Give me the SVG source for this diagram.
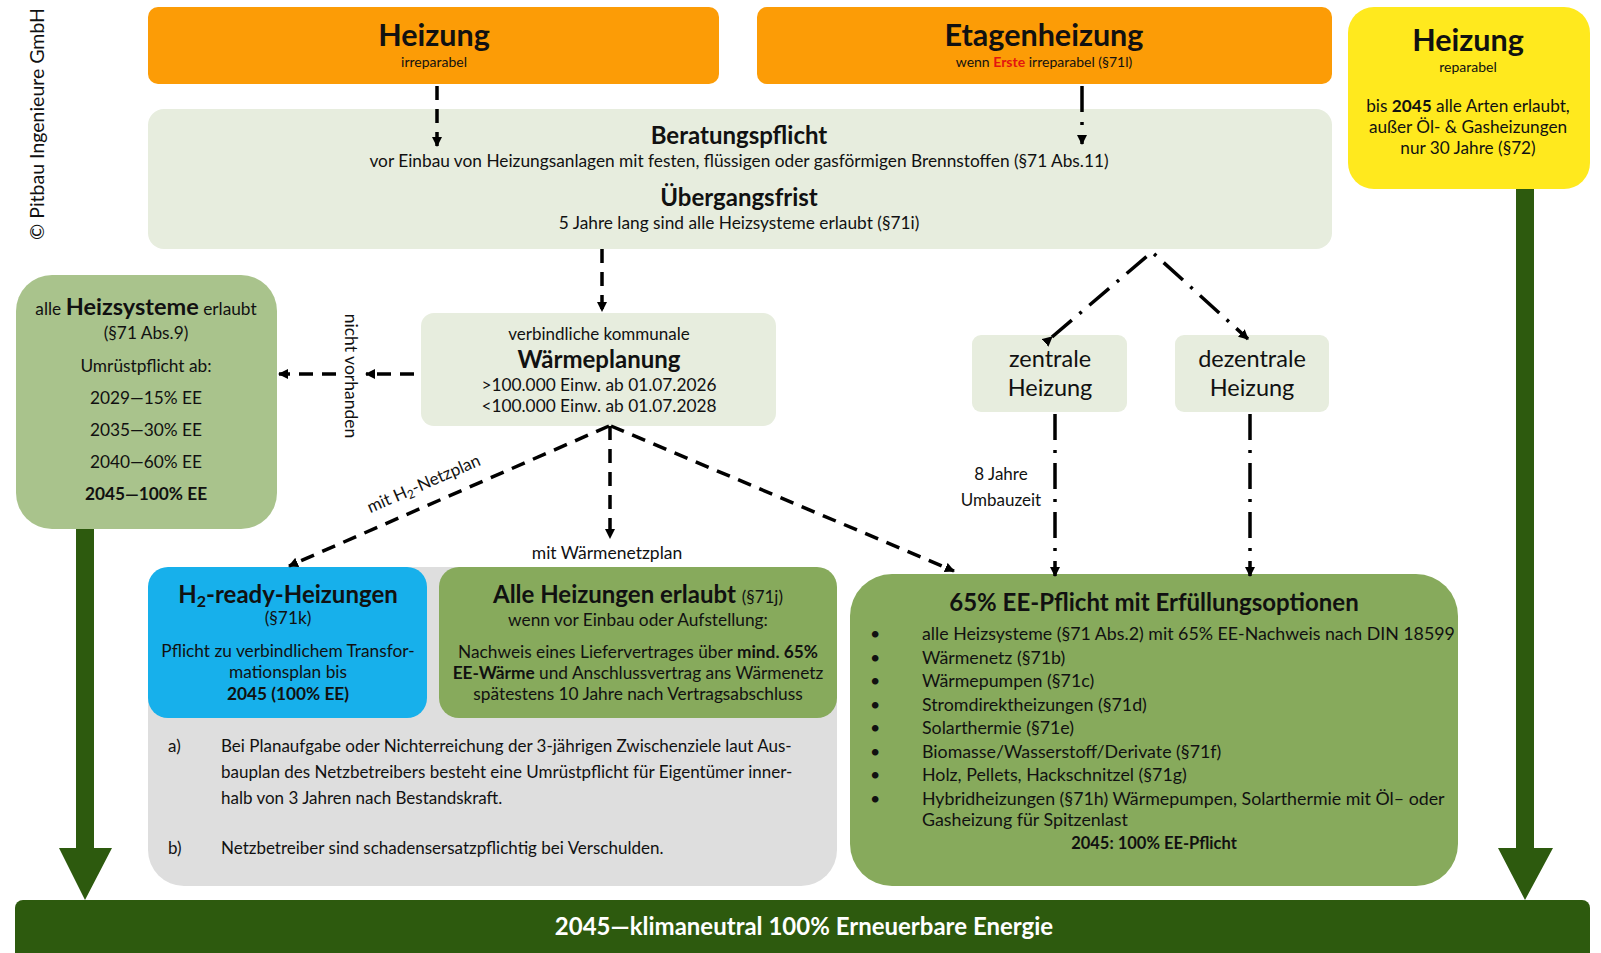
<svg xmlns="http://www.w3.org/2000/svg" width="1601" height="953" viewBox="0 0 1601 953">
<defs>
<marker id="ah" viewBox="0 0 10 10" refX="9" refY="5" markerWidth="10" markerHeight="10" markerUnits="userSpaceOnUse" orient="auto">
<path d="M0,0 L10,5 L0,10 z" fill="#000"/>
</marker>
</defs>
<style>
text{font-family:Lato,"Open Sans","Liberation Sans",sans-serif;fill:#111}
.c{text-anchor:middle}
.b{font-weight:bold}
.t{font-size:30.5px;font-weight:bold}
.h{font-size:24px;font-weight:bold}
.s{font-size:14px}
.m{font-size:17.3px}
.n{font-size:17px}
.y{font-size:17.2px}
.dash{stroke:#000;stroke-width:3.5;fill:none;stroke-dasharray:14 9}
.dd{stroke:#000;stroke-width:3.5;fill:none;stroke-dasharray:26 10 3 10}
</style>
<rect width="1601" height="953" fill="#fff"/>
<text transform="translate(44,124) rotate(-90)" text-anchor="middle" font-size="19.5">© Pitbau Ingenieure GmbH</text>

<g id="heizung-irreparabel">
<rect x="148" y="7" width="571" height="77" rx="10" fill="#FC9C06"/>
<text class="c t" x="434" y="46">Heizung</text>
<text class="c s" x="434" y="67" fill="#3a2500">irreparabel</text>
</g>
<g id="etagenheizung">
<rect x="757" y="7" width="575" height="77" rx="10" fill="#FC9C06"/>
<text class="c t" x="1044" y="46">Etagenheizung</text>
<text class="c s" x="1044" y="67">wenn <tspan fill="#E3140F" font-weight="bold">Erste</tspan> irreparabel (§71l)</text>
</g>
<g id="heizung-reparabel">
<rect x="1348" y="7" width="242" height="182" rx="26" fill="#FFE91E"/>
<text class="c t" x="1468" y="51">Heizung</text>
<text class="c s" x="1468" y="72">reparabel</text>
<text class="c y" x="1468" y="112">bis <tspan class="b">2045</tspan> alle Arten erlaubt,</text>
<text class="c y" x="1468" y="133">außer Öl- &amp; Gasheizungen</text>
<text class="c y" x="1468" y="154">nur 30 Jahre (§72)</text>
</g>
<g id="beratungspflicht">
<rect x="148" y="109" width="1184" height="140" rx="16" fill="#E7EDDE"/>
<text class="c h" x="739" y="144">Beratungspflicht</text>
<text class="c m" x="739" y="167">vor Einbau von Heizungsanlagen mit festen, flüssigen oder gasförmigen Brennstoffen (§71 Abs.11)</text>
<text class="c h" x="739" y="206">Übergangsfrist</text>
<text class="c m" x="739" y="229">5 Jahre lang sind alle Heizsysteme erlaubt (§71i)</text>
</g>
<g id="alle-heizsysteme">
<rect x="16" y="275" width="261" height="254" rx="36" fill="#A9C38C"/>
<text class="c m" x="146" y="315">alle <tspan font-size="23.5" font-weight="bold">Heizsysteme</tspan> erlaubt</text>
<text class="c m" x="146" y="339">(§71 Abs.9)</text>
<text class="c m" x="146" y="372">Umrüstpflicht ab:</text>
<text class="c m" x="146" y="404">2029—15% EE</text>
<text class="c m" x="146" y="436">2035—30% EE</text>
<text class="c m" x="146" y="468">2040—60% EE</text>
<text class="c m b" x="146" y="500">2045—100% EE</text>
</g>
<g id="waermeplanung">
<rect x="421" y="313" width="355" height="113" rx="13" fill="#E7EDDE"/>
<text class="c" x="599" y="340" font-size="17">verbindliche kommunale</text>
<text class="c h" x="599" y="368">Wärmeplanung</text>
<text class="c m" x="599" y="391">&gt;100.000 Einw. ab 01.07.2026</text>
<text class="c m" x="599" y="412">&lt;100.000 Einw. ab 01.07.2028</text>
</g>
<g id="zentrale">
<rect x="972" y="335" width="155" height="77" rx="9" fill="#E7EDDE"/>
<text class="c" x="1050" y="367" font-size="23.5">zentrale</text>
<text class="c" x="1050" y="396" font-size="23.5">Heizung</text>
</g>
<g id="dezentrale">
<rect x="1175" y="335" width="154" height="77" rx="9" fill="#E7EDDE"/>
<text class="c" x="1252" y="367" font-size="23.5">dezentrale</text>
<text class="c" x="1252" y="396" font-size="23.5">Heizung</text>
</g>
<g id="waermenetz-bereich">
<rect x="148" y="567" width="689" height="319" rx="36" fill="#DEDEDE"/>
<text class="n" x="168" y="752">a)</text>
<text class="n" x="221" y="752">Bei Planaufgabe oder Nichterreichung der 3-jährigen Zwischenziele laut Aus-</text>
<text class="n" x="221" y="778">bauplan des Netzbetreibers besteht eine Umrüstpflicht für Eigentümer inner-</text>
<text class="n" x="221" y="804">halb von 3 Jahren nach Bestandskraft.</text>
<text class="n" x="168" y="854">b)</text>
<text class="n" x="221" y="854">Netzbetreiber sind schadensersatzpflichtig bei Verschulden.</text>
</g>
<g id="h2-ready">
<rect x="148" y="567" width="279" height="151" rx="20" fill="#17B0EB"/>
<text class="c h" x="288" y="603">H<tspan font-size="16" baseline-shift="-4">2</tspan>-ready-Heizungen</text>
<text class="c m" x="288" y="624" fill="#1c3a55">(§71k)</text>
<text class="c m" x="288" y="657" fill="#1c3a55">Pflicht zu verbindlichem Transfor-</text>
<text class="c m" x="288" y="678" fill="#1c3a55">mationsplan bis</text>
<text class="c m b" x="288" y="700" fill="#1c3a55">2045 (100% EE)</text>
</g>
<g id="alle-heizungen">
<rect x="439" y="567" width="398" height="151" rx="20" fill="#87AA5C"/>
<text class="c h" x="638" y="603">Alle Heizungen erlaubt <tspan font-size="17" font-weight="normal">(§71j)</tspan></text>
<text class="c m" x="638" y="626">wenn vor Einbau oder Aufstellung:</text>
<text class="c m" x="638" y="658">Nachweis eines Liefervertrages über <tspan class="b">mind. 65%</tspan></text>
<text class="c m" x="638" y="679"><tspan class="b">EE-Wärme</tspan> und Anschlussvertrag ans Wärmenetz</text>
<text class="c m" x="638" y="700">spätestens 10 Jahre nach Vertragsabschluss</text>
</g>
<g id="ee-pflicht">
<rect x="850" y="574" width="608" height="312" rx="42" fill="#87AA5C"/>
<text class="c h" x="1154" y="611">65% EE-Pflicht mit Erfüllungsoptionen</text>
<g font-size="17.8">
<text x="870" y="640">•</text><text x="922" y="640">alle Heizsysteme (§71 Abs.2) mit 65% EE-Nachweis nach DIN 18599</text>
<text x="870" y="664">•</text><text x="922" y="664">Wärmenetz (§71b)</text>
<text x="870" y="687">•</text><text x="922" y="687">Wärmepumpen (§71c)</text>
<text x="870" y="711">•</text><text x="922" y="711">Stromdirektheizungen (§71d)</text>
<text x="870" y="734">•</text><text x="922" y="734">Solarthermie (§71e)</text>
<text x="870" y="758">•</text><text x="922" y="758">Biomasse/Wasserstoff/Derivate (§71f)</text>
<text x="870" y="781">•</text><text x="922" y="781">Holz, Pellets, Hackschnitzel (§71g)</text>
<text x="870" y="805">•</text><text x="922" y="805">Hybridheizungen (§71h) Wärmepumpen, Solarthermie mit Öl– oder</text>
<text x="922" y="826">Gasheizung für Spitzenlast</text>
</g>
<text class="c b" x="1154" y="849" font-size="16.5">2045: 100% EE-Pflicht</text>
</g>
<g id="klimaneutral">
<rect x="15" y="900" width="1575" height="60" rx="8" fill="#2D5A0E"/>
<text class="c b" x="804" y="935" font-size="24" style="fill:#fff">2045—klimaneutral 100% Erneuerbare Energie</text>
</g>

<g id="connectors">
<line class="dash" x1="437" y1="86" x2="437" y2="146" marker-end="url(#ah)"/>
<line class="dd" x1="1082" y1="86" x2="1082" y2="144" marker-end="url(#ah)"/>
<line class="dash" x1="602" y1="249" x2="602" y2="311" marker-end="url(#ah)"/>
<line class="dash" x1="414" y1="374" x2="366" y2="374" marker-end="url(#ah)"/>
<line class="dash" x1="336" y1="374" x2="279" y2="374" marker-end="url(#ah)"/>
<text transform="translate(345,376) rotate(90)" text-anchor="middle" font-size="17.5">nicht vorhanden</text>
<polyline class="dd" points="1052,337 1152,252 1248,339" marker-start="url(#ah)" marker-end="url(#ah)"/>
<line class="dd" x1="1055" y1="414" x2="1055" y2="576" marker-end="url(#ah)"/>
<line class="dd" x1="1250" y1="414" x2="1250" y2="576" marker-end="url(#ah)"/>
<text class="c" x="1001" y="480" font-size="17">8 Jahre</text>
<text class="c" x="1001" y="506" font-size="17">Umbauzeit</text>
<line class="dash" x1="609" y1="426" x2="289" y2="566" marker-end="url(#ah)"/>
<line class="dash" x1="610" y1="426" x2="610" y2="538" marker-end="url(#ah)"/>
<line class="dash" x1="611" y1="426" x2="954" y2="571" marker-end="url(#ah)"/>
<text class="c" font-size="17" transform="translate(426,489) rotate(-23.6)">mit H<tspan font-size="12" baseline-shift="-3">2</tspan>-Netzplan</text>
<text class="c" x="607" y="559" font-size="17.5">mit Wärmenetzplan</text>
<path d="M76,529 H94 V848 H112 L85,900 L59,848 H76 Z" fill="#2D5A0E"/>
<path d="M1516,189 H1534 V848 H1553 L1525,900 L1498,848 H1516 Z" fill="#2D5A0E"/>
</g>
</svg>
